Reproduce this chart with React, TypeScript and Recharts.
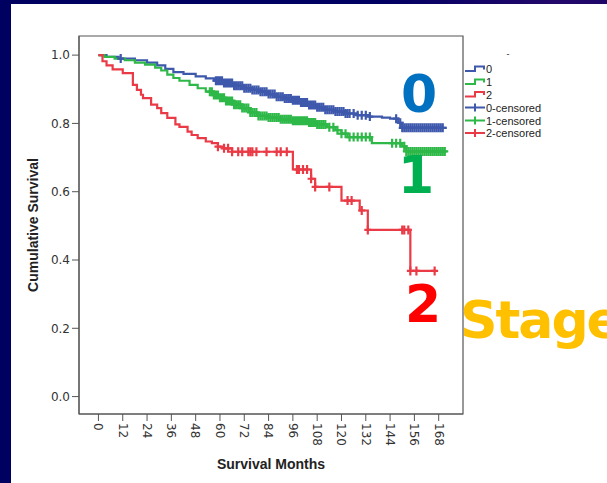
import React from 'react';
import { ComposedChart, Line, Scatter, XAxis, YAxis, ReferenceArea } from 'recharts';

// Kaplan-Meier style survival by stage
const monthTicks = [0, 12, 24, 36, 48, 60, 72, 84, 96, 108, 120, 132, 144, 156, 168];
const survTicks = [0, 0.2, 0.4, 0.6, 0.8, 1.0];

const stage0Months = [0, 4, 10, 18, 24, 29, 33, 37, 42, 48, 53, 57, 62, 67, 72, 76, 80, 84, 88, 92, 96, 100, 104, 108, 112, 117, 122, 128, 134, 140, 144, 148, 150, 172];
const stage0Surv = [1.0, 0.995, 0.99, 0.985, 0.978, 0.97, 0.96, 0.95, 0.945, 0.938, 0.932, 0.925, 0.918, 0.91, 0.903, 0.898, 0.893, 0.886, 0.878, 0.873, 0.868, 0.861, 0.854, 0.847, 0.84, 0.835, 0.829, 0.824, 0.82, 0.817, 0.814, 0.802, 0.787, 0.787];
const stage0Censored = [11, 58, 59, 60, 61, 62, 63, 64, 65, 66, 67, 68, 69, 70, 71, 72, 73, 74, 75, 76, 77, 78, 79, 80, 81, 82, 83, 84, 85, 86, 87, 88, 89, 90, 91, 92, 93, 94, 95, 96, 97, 98, 99, 100, 101, 102, 103, 104, 105, 106, 107, 108, 109, 110, 111, 112, 113, 114, 115, 116, 117, 118, 119, 120, 121, 122, 123, 124, 126, 128, 130, 132, 134, 147, 149, 150, 151, 152, 153, 154, 155, 156, 157, 158, 159, 160, 161, 162, 163, 164, 165, 166, 167, 168, 169, 170];

const stage1Months = [0, 3, 8, 13, 18, 23, 28, 31, 34, 37, 40, 45, 49, 53, 57, 60, 63, 67, 71, 75, 79, 84, 90, 96, 104, 108, 113, 117, 120, 123, 135, 150, 152, 172];
const stage1Surv = [1.0, 0.995, 0.99, 0.985, 0.978, 0.972, 0.963, 0.955, 0.943, 0.933, 0.925, 0.913, 0.903, 0.893, 0.883, 0.875, 0.866, 0.855, 0.845, 0.832, 0.822, 0.817, 0.812, 0.808, 0.803, 0.797, 0.789, 0.78, 0.77, 0.76, 0.742, 0.733, 0.718, 0.718];
const stage1Censored = [55, 56, 57, 58, 59, 60, 61, 62, 63, 64, 65, 66, 67, 68, 69, 70, 71, 72, 73, 74, 75, 76, 77, 78, 79, 80, 81, 82, 83, 84, 85, 86, 87, 88, 89, 90, 91, 92, 93, 94, 95, 96, 97, 98, 99, 100, 101, 102, 103, 104, 105, 106, 107, 108, 109, 110, 111, 112, 114, 116, 118, 120, 122, 124, 126, 128, 130, 132, 134, 145, 147, 149, 151, 152, 153, 154, 155, 156, 157, 158, 159, 160, 161, 162, 163, 164, 165, 166, 167, 168, 169, 170, 171];

const stage2Months = [0, 2, 4, 7, 12, 17, 19, 21, 22, 26, 29, 31, 34, 38, 40, 44, 46, 49, 53, 56, 59, 62, 66, 96, 105, 107, 120, 129, 133, 154, 166];
const stage2Surv = [1.0, 0.982, 0.97, 0.958, 0.947, 0.913, 0.898, 0.884, 0.874, 0.855, 0.845, 0.83, 0.816, 0.797, 0.79, 0.776, 0.766, 0.757, 0.747, 0.742, 0.732, 0.727, 0.717, 0.665, 0.638, 0.614, 0.574, 0.545, 0.488, 0.368, 0.368];
const stage2Censored = [59, 62, 64, 66, 69, 71, 74, 75, 76, 78, 83, 88, 90, 93, 98, 99, 101, 103, 105, 107, 114, 123, 125, 130, 133, 150, 151, 153, 154, 157, 166];

const legendLabels = ['0', '1', '2', '0-censored', '1-censored', '2-censored'];

const X_DOMAIN: [number, number] = [-9.6, 180];
const Y_DOMAIN: [number, number] = [-0.051, 1.056];

const BLUE = '#3e58ac';
const GREEN = '#2eb848';
const RED = '#ea3a46';

const toSteps = (months: number[], surv: number[]) => months.map((m, i) => ({ m, s: surv[i] }));

// a censored case sits on the curve at its own time
const survAt = (months: number[], surv: number[], t: number) => {
  let v = surv[0];
  months.forEach((m, i) => { if (m <= t) v = surv[i]; });
  return v;
};
const toCensored = (months: number[], surv: number[], times: number[]) =>
  times.map((t) => ({ m: t, s: survAt(months, surv, t) }));

const groups = [
  { steps: toSteps(stage0Months, stage0Surv), cens: toCensored(stage0Months, stage0Surv, stage0Censored), color: BLUE },
  { steps: toSteps(stage1Months, stage1Surv), cens: toCensored(stage1Months, stage1Surv, stage1Censored), color: GREEN },
  { steps: toSteps(stage2Months, stage2Surv), cens: toCensored(stage2Months, stage2Surv, stage2Censored), color: RED },
];

function CensorMark({ cx, cy, color }: { cx?: number; cy?: number; color: string }) {
  if (cx == null || cy == null) return null;
  return (
    <path d={`M${cx - 3.5},${cy}H${cx + 3.5}M${cx},${cy - 4.5}V${cy + 4.5}`} stroke={color} strokeWidth={2.2} fill="none" />
  );
}

function MonthTick({ x, y, payload }: any) {
  return (
    <text
      x={x}
      y={y}
      dy="0.35em"
      transform={`rotate(90, ${x}, ${y})`}
      textAnchor="start"
      fill="#333"
      fontSize={12}
      fontFamily="'DejaVu Sans', sans-serif"
    >
      {payload.value}
    </text>
  );
}

function LegendBox() {
  const colors = [BLUE, GREEN, RED, BLUE, GREEN, RED];
  const rows = [69, 82, 94.5, 107.5, 120.5, 133];
  return (
    <g fontFamily="'Liberation Sans', Arial, sans-serif" fontSize={11} fill="#222">
      <text x={508} y={57} textAnchor="middle" fontSize={9}>-</text>
      {legendLabels.map((lab, i) => {
        const c = rows[i];
        return (
          <g key={lab}>
            {i < 3 ? (
              <path d={`M465,${c + 2}H475V${c - 2.5}H484V${c + 0.5}`} stroke={colors[i]} strokeWidth={2} fill="none" />
            ) : (
              <path d={`M465,${c}H485M475,${c - 4}V${c + 4}`} stroke={colors[i]} strokeWidth={2} fill="none" />
            )}
            <text x={486} y={c + 4}>{lab}</text>
          </g>
        );
      })}
    </g>
  );
}

export default function App() {
  const big = { fontFamily: "'DejaVu Sans', sans-serif", fontWeight: 700, fontSize: 52 };
  return (
    <div
      style={{
        position: 'absolute',
        left: 0,
        top: 0,
        width: 607,
        height: 483,
        overflow: 'hidden',
        background: 'linear-gradient(100deg, #000060 0%, #000062 55%, #22086a 80%, #160566 100%)',
      }}
    >
      <div style={{ position: 'absolute', left: 11, top: 4, right: 0, bottom: 0, background: '#fff' }} />
      <div style={{ position: 'absolute', left: 0, top: 0 }}>
        <ComposedChart width={607} height={483} margin={{ top: 36, right: 144, bottom: 19, left: 19 }}>
          <ReferenceArea
            x1={X_DOMAIN[0]}
            x2={X_DOMAIN[1]}
            y1={Y_DOMAIN[0]}
            y2={Y_DOMAIN[1]}
            fill="none"
            stroke="#555"
            strokeWidth={1.2}
            ifOverflow="visible"
          />
          <XAxis
            type="number"
            dataKey="m"
            domain={X_DOMAIN}
            ticks={monthTicks}
            interval={0}
            allowDataOverflow
            tickSize={7}
            height={50}
            stroke="#555"
            tick={<MonthTick />}
          />
          <YAxis
            type="number"
            domain={Y_DOMAIN}
            ticks={survTicks}
            interval={0}
            allowDataOverflow
            width={60}
            tickSize={7}
            stroke="#555"
            tickFormatter={(v: number) => v.toFixed(1)}
            tick={{ fill: '#333', fontSize: 12, fontFamily: "'DejaVu Sans', sans-serif" }}
          />
          {groups.map((g, i) => (
            <Line
              key={`line-${i}`}
              data={g.steps}
              dataKey="s"
              type="stepAfter"
              stroke={g.color}
              strokeWidth={2.2}
              dot={false}
              isAnimationActive={false}
            />
          ))}
          {groups.map((g, i) => (
            <Scatter
              key={`cens-${i}`}
              data={g.cens}
              dataKey="s"
              isAnimationActive={false}
              shape={(p: any) => <CensorMark cx={p.cx} cy={p.cy} color={g.color} />}
            />
          ))}
        </ComposedChart>
      </div>
      <svg width={607} height={483} style={{ position: 'absolute', left: 0, top: 0, pointerEvents: 'none' }}>
        <text
          x={38}
          y={225}
          transform="rotate(-90, 38, 225)"
          textAnchor="middle"
          fontFamily="'Liberation Sans', Arial, sans-serif"
          fontWeight={700}
          fontSize={14}
          fill="#222"
        >
          Cumulative Survival
        </text>
        <text
          x={271}
          y={469}
          textAnchor="middle"
          fontFamily="'Liberation Sans', Arial, sans-serif"
          fontWeight={700}
          fontSize={14}
          fill="#222"
        >
          Survival Months
        </text>
        <LegendBox />
        <text x={419} y={112} textAnchor="middle" fill="#0070c0" {...big}>0</text>
        <text x={416} y={193} textAnchor="middle" fill="#00b050" {...big}>1</text>
        <text x={423} y={322} textAnchor="middle" fill="#ff0000" {...big}>2</text>
        <text x={460} y={338} fill="#ffc000" letterSpacing={-2} {...big}>Stage</text>
      </svg>
    </div>
  );
}
